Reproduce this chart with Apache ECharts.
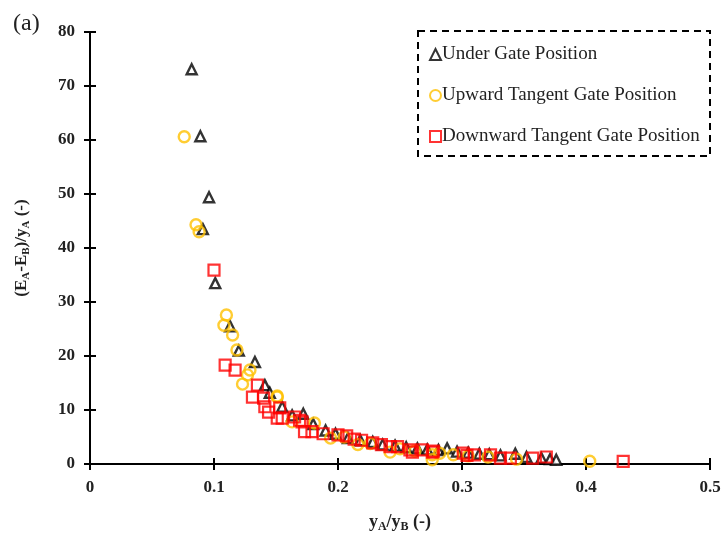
<!DOCTYPE html>
<html><head><meta charset="utf-8">
<script src="https://cdn.jsdelivr.net/npm/echarts@6/dist/echarts.min.js"></script>
<style>html,body{margin:0;padding:0;background:#fff}#c{width:722px;height:535px}</style>
</head><body><div id="c"></div>
<script>
const seriesNames = ['Under Gate Position','Upward Tangent Gate Position','Downward Tangent Gate Position'];
const xTicks = [0,0.1,0.2,0.3,0.4,0.5];
const yTicks = [0,10,20,30,40,50,60,70,80];
const underGate = [
 [0.082,73.1],[0.089,60.7],[0.096,49.4],[0.091,43.5],[0.101,33.5],[0.113,25.5],[0.120,21.0],
 [0.133,18.9],[0.141,14.6],[0.145,13.2],[0.155,10.6],[0.163,9.0],[0.172,9.3],[0.180,7.4],
 [0.190,6.2],[0.198,5.6],[0.208,4.8],[0.218,4.4],[0.228,4.1],[0.236,3.6],[0.246,3.4],
 [0.255,3.1],[0.264,2.9],[0.272,2.7],[0.281,2.6],[0.288,2.9],[0.296,2.3],[0.305,2.1],
 [0.314,1.9],[0.322,1.8],[0.331,1.6],[0.343,1.9],[0.352,1.3],[0.364,1.1],[0.371,0.9],[0.376,0.8]
];
const upwardGate = [
 [0.076,60.6],[0.0855,44.3],[0.088,43.0],[0.110,27.6],[0.108,25.7],[0.115,23.9],[0.1185,21.1],
 [0.129,17.4],[0.127,16.5],[0.123,14.8],[0.151,12.6],[0.151,12.4],[0.163,7.8],[0.181,7.6],
 [0.194,4.8],[0.205,5.0],[0.216,3.6],[0.226,3.8],[0.242,2.2],[0.250,2.8],[0.262,2.4],
 [0.276,1.7],[0.276,0.8],[0.282,2.0],[0.293,1.7],[0.305,1.5],[0.321,1.3],[0.344,0.9],[0.403,0.5]
];
const downwardGate = [
 [0.100,35.9],[0.109,18.3],[0.117,17.4],[0.135,14.6],[0.131,12.4],[0.140,12.2],[0.141,10.6],
 [0.144,9.6],[0.153,10.4],[0.151,8.5],[0.155,8.5],[0.165,8.7],[0.169,8.1],[0.171,7.8],
 [0.173,6.0],[0.179,6.0],[0.188,5.6],[0.200,5.4],[0.207,5.2],[0.213,4.6],[0.219,4.4],
 [0.228,3.9],[0.235,3.6],[0.242,3.2],[0.248,3.2],[0.258,2.6],[0.260,2.2],[0.268,2.6],
 [0.276,2.2],[0.277,2.4],[0.301,2.0],[0.304,1.6],[0.310,1.7],[0.323,1.7],[0.331,1.1],
 [0.339,1.1],[0.357,1.1],[0.368,1.3],[0.430,0.5]
];

const serif = '"Liberation Serif","Times New Roman",serif';
const chart = echarts.init(document.getElementById('c'));
const axisLine = {show:true, onZero:false, lineStyle:{color:'#000', width:2}};
chart.setOption({
  animation:false,
  backgroundColor:'#fff',
  grid:{left:90, right:12, top:32, bottom:71, containLabel:false, outerBoundsMode:'none'},
  xAxis:[{
    type:'value', min:0, max:0.5, interval:0.1,
    axisLine:axisLine, splitLine:{show:false},
    axisTick:{show:true, inside:false, length:6, lineStyle:{color:'#000', width:2}},
    axisLabel:{margin:15, fontFamily:serif, fontWeight:'bold', fontSize:17, color:'#222',
      formatter:v=>{const i=xTicks.findIndex(t=>Math.abs(t-v)<1e-9);return i>=0?String(xTicks[i]):'';}},
    name:'y{sub|A}/y{sub|B} (-)', nameLocation:'middle', nameGap:48, nameMoveOverlap:false,
    nameTextStyle:{fontFamily:serif, fontWeight:'bold', fontSize:18, color:'#222',
      rich:{sub:{fontFamily:serif, fontWeight:'bold', fontSize:12, color:'#222', padding:[9,0,0,0]}}}
  },{
    type:'value', min:0, max:0.5, interval:0.1, position:'bottom',
    axisLine:{show:false}, splitLine:{show:false}, axisLabel:{show:false},
    axisTick:{show:true, inside:true, length:6, lineStyle:{color:'#000', width:2}}
  }],
  yAxis:[{
    type:'value', min:0, max:80, interval:10,
    axisLine:axisLine, splitLine:{show:false},
    axisTick:{show:true, inside:false, length:6, lineStyle:{color:'#000', width:2}},
    axisLabel:{margin:15, fontFamily:serif, fontWeight:'bold', fontSize:17, color:'#222',
      formatter:v=>{const i=yTicks.indexOf(v);return i>=0?String(yTicks[i]):'';}},
    name:'(E{sub|A}-E{sub|B})/y{sub|A} (-)', nameLocation:'middle', nameGap:58, nameRotate:90, nameMoveOverlap:false,
    nameTextStyle:{fontFamily:serif, fontWeight:'bold', fontSize:17, color:'#222',
      rich:{sub:{fontFamily:serif, fontWeight:'bold', fontSize:11, color:'#222', padding:[9,0,0,0]}}}
  },{
    type:'value', min:0, max:80, interval:10, position:'left',
    axisLine:{show:false}, splitLine:{show:false}, axisLabel:{show:false},
    axisTick:{show:true, inside:true, length:6, lineStyle:{color:'#000', width:2}}
  }],
  legend:{
    orient:'vertical', left:424, top:40, itemGap:22, itemWidth:11, itemHeight:11,
    textStyle:{fontFamily:serif, fontSize:19, color:'#222', padding:[0,0,0,-4]},
    data:seriesNames
  },
  graphic:[
    {type:'rect', shape:{x:418, y:31, width:292, height:125},
     style:{fill:'none', stroke:'#000', lineWidth:2, lineDash:[7,5]}, z:100},
    {type:'text', left:13, top:12, style:{text:'(a)', font:'24px '+serif, fill:'#222'}}
  ],
  series:[
    {name:seriesNames[0], type:'scatter', data:underGate, symbol:'triangle', symbolSize:10,
     itemStyle:{color:'#fff', borderColor:'#000', borderWidth:2.4}, z:3},
    {name:seriesNames[1], type:'scatter', data:upwardGate, symbol:'circle', symbolSize:11,
     itemStyle:{color:'rgba(255,255,255,0)', borderColor:'#FFC000', borderWidth:2.4}, z:4},
    {name:seriesNames[2], type:'scatter', data:downwardGate, symbol:'rect', symbolSize:11,
     itemStyle:{color:'rgba(255,255,255,0)', borderColor:'#FF0000', borderWidth:2.2}, z:5}
  ]
});
</script></body></html>
